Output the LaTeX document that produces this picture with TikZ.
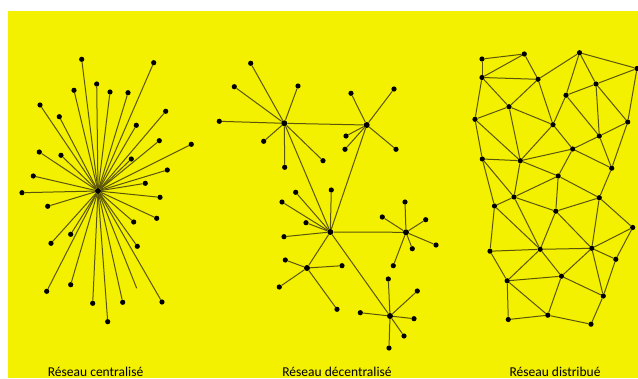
\documentclass[tikz,border=0pt]{standalone}
\usepackage{fontspec}
\setmainfont{Carlito}
\definecolor{bgy}{RGB}{243,240,0}
\definecolor{ln}{RGB}{90,85,10}
\begin{document}
\begin{tikzpicture}[x=1pt,y=-1pt,
 dot/.style={circle,fill=black,inner sep=0pt,minimum size=5.2pt},
 hub/.style={dot,minimum size=6pt},
 link/.style={draw=ln,line width=1pt},
 lbl/.style={font=\fontsize{13.5}{15}\selectfont,anchor=base,inner sep=0pt}]
\useasboundingbox (0,0) rectangle (638,378);
\fill[bgy] (8,11) rectangle (638,378);
% ---------- centralised ----------
\node[hub] (c0) at (98,191) {};
\foreach \i/\x/\y in {1/81.7/59.3, 2/153.7/62.7, 3/96.7/84, 4/74/90.3, 5/110/92, 6/128/92.7,
  7/40/105, 8/165.7/111.3, 9/59.3/116.7, 10/136.3/125.3, 11/159.3/140.7, 12/191.3/144.3,
  13/39.3/152, 14/61/155.3, 15/131.3/159, 16/167.3/170, 17/33.3/176, 18/145.3/183.3,
  19/22/192.7, 20/160/197.3, 21/47.7/206.3, 22/156.7/218.3, 23/133.7/222, 24/70.7/234.3,
  25/51/243.3, 26/137.3/246.3, 27/46.7/291.3, 28/70.7/284.7, 29/92.7/303.3, 30/122.7/302.3,
  31/162/302, 32/107.7/321.7}{
  \node[dot] (s\i) at (\x,\y) {};
  \draw[link] (c0) -- (s\i);
}
\coordinate (s33) at (136.7,288.3);
\draw[link] (c0) -- (s33);
% ---------- decentralised ----------
\node[hub] (hA) at (284.3,123.3) {};
\node[hub] (hB) at (366.7,125) {};
\node[hub] (hC) at (330.3,232) {};
\node[hub] (hD) at (406,232.3) {};
\node[hub] (hE) at (307,268) {};
\node[hub] (hF) at (390,316) {};
\draw[link] (hA) -- (hB);
\draw[link] (hA) -- (hC);
\draw[link] (hB) -- (hC);
\draw[link] (hC) -- (hD);
\draw[link] (hC) -- (hE);
\draw[link] (hC) -- (hF);
\foreach \h/\i/\x/\y in {A/1/250.7/63.3, A/2/234.3/86.7, A/3/298/86, A/4/219.3/121.3,
  A/5/263.7/141.3, A/6/284.7/167.3, A/7/323/160.7,
  B/1/351/93.3, B/2/394/89, B/3/346/136, B/4/345/149.3, B/5/396/149.3,
  C/1/295.7/192.3, C/2/331.3/190, C/3/282/202, C/4/306/222.7, C/5/284/236.7,
  D/1/405/202, D/2/382.3/217, D/3/425.7/219.7, D/4/436/245, D/5/412.3/248.7, D/6/393.3/265.7,
  E/1/285.3/260, E/2/342/265.7, E/3/279.3/287, E/4/337/309.3,
  F/1/388.3/279, F/2/417.3/291, F/3/360.3/312.7, F/4/414/318.7, F/5/404/336, F/6/389/348}{
  \node[dot] (l\h\i) at (\x,\y) {};
  \draw[link] (h\h) -- (l\h\i);
}
% ---------- distributed ----------
\foreach \i/\x/\y in {1/482/59, 2/524.3/54, 3/579.5/52.7, 4/637/68.5, 5/482/77.5, 6/538/79.3,
  7/596/84, 8/566/95.3, 9/509/106.7, 10/475/119.3, 11/627.7/122, 12/553/124.7, 13/599.3/136,
  14/572.7/149, 15/482.3/159, 16/520.3/160.7, 17/611.7/168.2, 18/558.2/176, 19/514/197,
  20/599.3/197.7, 21/494.5/206, 22/555.8/211.2, 23/632.7/227.5, 24/490/251.2, 25/540.2/249.3,
  26/591.8/248.3, 27/615.8/259.3, 28/507.2/280.8, 29/561.5/276.2, 30/603.3/296,
  31/508.3/319.5, 32/547.8/315.2, 33/591/324.2}{
  \node[dot] (n\i) at (\x,\y) {};
}
\foreach \a/\b in {1/2,1/5,5/2,2/6,5/6,6/3,3/8,3/7,3/4,7/4,7/8,5/9,5/10,6/9,6/12,9/10,9/12,
  8/12,8/13,7/13,7/11,4/11,9/16,10/15,10/16,12/16,12/14,13/14,11/13,11/17,13/17,14/17,14/18,
  16/18,15/16,16/14,15/21,15/19,16/19,18/19,18/20,18/22,17/20,19/21,19/22,20/22,20/23,21/24,
  21/25,19/25,22/25,22/26,20/26,23/26,23/27,24/25,25/26,26/27,24/28,25/28,25/29,26/29,26/30,
  27/30,28/29,29/30,28/31,28/32,29/32,31/32,32/33,30/33}{
  \draw[link] (n\a) -- (n\b);
}
% ---------- labels ----------
\node[lbl] (t1) at (95.6,376) {Réseau centralisé};
\node[lbl] (t2) at (337,376) {Réseau décentralisé};
\node[lbl] (t3) at (555,376) {Réseau distribué};
\end{tikzpicture}
\end{document}
